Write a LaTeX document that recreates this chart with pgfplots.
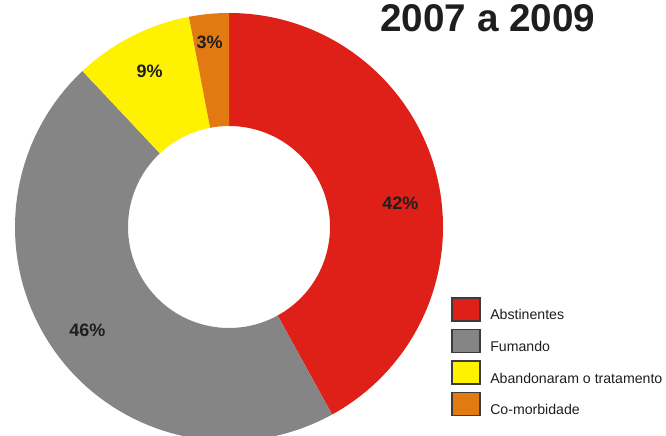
\documentclass[border=0pt]{standalone}
\usepackage{pgfplots}
\pgfplotsset{compat=1.18}
\usepackage{pgfplotstable}
\usepackage{fontspec}
\setmainfont{Liberation Sans}

\definecolor{cAbs}{RGB}{222,32,24}
\definecolor{cFum}{RGB}{133,133,133}
\definecolor{cAba}{RGB}{255,242,0}
\definecolor{cCom}{RGB}{226,122,18}
\definecolor{borda}{RGB}{60,60,60}
\definecolor{texto}{RGB}{30,30,30}

% valores em %, angulo e raio (px) do rotulo
\pgfplotstableread[col sep=comma]{
valor,cor,rotulo,angrot,raiorot
42,cAbs,Abstinentes,8,173
46,cFum,Fumando,216,175
9,cAba,Abandonaram o tratamento,117,175
3,cCom,Co-morbidade,96,186
}\dados

\begin{document}
\begin{tikzpicture}[
  rotulo/.style={font=\bfseries\fontsize{13.5}{14}\selectfont, text=texto},
  legtxt/.style={font=\fontsize{10.6}{12}\selectfont, text=texto, anchor=base west, inner sep=0pt},
]
\useasboundingbox (0,0) rectangle (499.5pt,326.25pt);
\begin{axis}[
  x=0.75pt, y=0.75pt,
  xmin=0, xmax=666, ymin=0, ymax=435,
  hide axis,
  anchor=south west, at={(0,0)},
]
\def\ini{90}
\pgfplotsforeachungrouped \i in {0,...,3}{
  \pgfplotstablegetelem{\i}{valor}\of\dados \let\val\pgfplotsretval
  \pgfplotstablegetelem{\i}{cor}\of\dados \let\cor\pgfplotsretval
  \pgfplotstablegetelem{\i}{rotulo}\of\dados \let\rot\pgfplotsretval
  \pgfplotstablegetelem{\i}{angrot}\of\dados \let\angr\pgfplotsretval
  \pgfplotstablegetelem{\i}{raiorot}\of\dados \let\raior\pgfplotsretval
  \pgfmathsetmacro\fim{\ini-3.6*\val}
  \pgfmathsetmacro\xa{229+214*cos(\ini)}
  \pgfmathsetmacro\ya{208+214*sin(\ini)}
  \pgfmathsetmacro\xb{229+101*cos(\fim)}
  \pgfmathsetmacro\yb{208+101*sin(\fim)}
  \pgfmathsetmacro\xl{229+\raior*cos(\angr)}
  \pgfmathsetmacro\yl{208+\raior*sin(\angr)}
  \pgfmathsetmacro\ytop{435-(298+31.5*\i)}
  \pgfmathsetmacro\ybot{435-(321+31.5*\i)}
  \pgfmathsetmacro\ybase{435-(320+31.5*\i)}
  \edef\cmd{%
    \noexpand\fill[\cor] (axis cs:\xa,\ya)
      arc[start angle=\ini, end angle=\fim, radius=160.5pt]
      -- (axis cs:\xb,\yb)
      arc[start angle=\fim, end angle=\ini, radius=75.75pt] -- cycle;
    \noexpand\node[rotulo] at (axis cs:\xl,\yl) {\val\noexpand\%};
    \noexpand\draw[fill=\cor, draw=borda, line width=1.3pt]
      (axis cs:452,\ytop) rectangle (axis cs:480,\ybot);
    \noexpand\node[legtxt] at (axis cs:490,\ybase) {\rot};
  }
  \cmd
  \global\let\ini\fim
}
\node[anchor=base, font=\bfseries\fontsize{29}{30}\selectfont, text=texto]
  at (axis cs:488,403) {2007 a 2009};
\end{axis}
\end{tikzpicture}
\end{document}
